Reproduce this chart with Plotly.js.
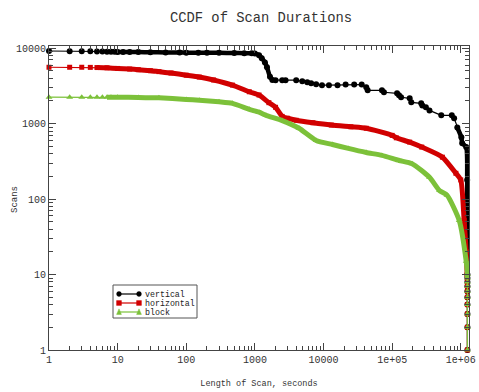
<!DOCTYPE html>
<html>
<head>
<meta charset="utf-8">
<script src="https://cdn.plot.ly/plotly-3.0.1.min.js"></script>
<style>html,body{margin:0;padding:0;background:#fff;}#chart{width:479px;height:392px;}</style>
</head>
<body>
<div id="chart"></div>
<script>
// ---- data ----
const seriesNames = ['vertical', 'horizontal', 'block'];

const verticalX = [1,2,3,4,5,6,7,8,9,10,12,15,20,30,50,80,100,150,200,300,500,700,900,1000,1150,1260,1400,1500,1660,1800,
  2000,2500,2800,4000,4900,5800,6600,7800,9500,12000,16000,21000,28000,36000,42000,44000,71000,76000,
  118000,126000,135000,180000,190000,265000,275000,310000,350000,520000,740000,800000,890000,1020000,1050000,1200000,1240000,
  1250000,1250000,1250000,1250000,1250000,1250000,1250000,1250000,1250000,1250000];
const verticalY = [9200,9150,9100,9100,9050,9050,9000,9000,9000,8950,8950,8900,8900,8850,8800,8800,8750,8750,8700,8700,8650,8600,8600,8500,8100,7400,6500,5600,4200,3800,
  3770,3770,3770,3770,3650,3550,3450,3330,3240,3240,3240,3300,3300,3300,3050,2770,2770,2610,
  2530,2380,2240,2170,1920,1860,1740,1650,1500,1290,1290,1180,890,660,550,490,180,
  10,9,8,7,6,5,4,3,2,1];

const horizontalX = [1,2,3,4,5,7,10,15,20,30,40,60,100,155,250,470,830,1150,1600,2000,2500,3000,4000,7000,13000,25000,42000,
  100000,115000,180000,270000,540000,850000,1000000,1120000,1200000,1240000,
  1250000,1250000,1250000,1250000,1250000,1250000,1250000,1250000,1250000];
const horizontalY = [5600,5600,5600,5580,5550,5500,5400,5300,5200,5050,4900,4700,4400,4150,3800,3250,2650,2400,1900,1650,1250,1180,1110,1030,960,910,870,
  700,650,570,490,360,220,180,52,20,10,
  9,8,7,6,5,4,3,2,1];

const blockX = [1,2,3,4,5,6,7,8,10,20,40,100,155,300,470,830,1150,1450,2500,4400,7800,13500,23000,42000,71000,
  126000,195000,350000,490000,630000,950000,1200000,
  1250000,1250000,1250000,1250000,1250000,1250000,1250000,1250000,1250000,1250000];
const blockY = [2250,2250,2250,2250,2250,2250,2250,2250,2250,2230,2200,2100,2050,1950,1860,1550,1420,1290,1100,870,600,530,470,415,380,
  325,295,195,130,113,52,15,
  10,9,8,7,6,5,4,3,2,1];

const xTickVals = [1,10,100,1000,10000,100000,1000000];
const xTickText = ['1','10','100','1000','10000','1e+05','1e+06'];
const yTickVals = [1,10,100,1000,10000];
const yTickText = ['1','10','100','1000','10000'];

// ---- styling ----
const FONT = 'Liberation Mono, DejaVu Sans Mono, monospace';
const colors = ['#000000', '#d10000', '#7cc13a'];
const symbols = ['circle', 'square', 'triangle-up'];
const markerSizes = [6, 5, 6];
const bandWidths = [4.5, 5, 5];
const bandRanges = [[[9, 1800], [880000, 2e6]], [[5, 2e6]], [[7, 2e6]]];

const xs = [verticalX, horizontalX, blockX];
const ys = [verticalY, horizontalY, blockY];

const traces = [];
for (let s = 0; s < 3; s++) {
  bandRanges[s].forEach(r => {
    const bx = [], by = [];
    xs[s].forEach((x, i) => { if (x >= r[0] && x <= r[1] && ys[s][i] >= 9) { bx.push(x); by.push(ys[s][i]); } });
    traces.push({x: bx, y: by, type: 'scatter', mode: 'lines', showlegend: false, hoverinfo: 'skip',
      cliponaxis: false, line: {color: colors[s], width: bandWidths[s], shape: 'spline', smoothing: 0.6}});
  });
  traces.push({x: xs[s], y: ys[s], name: seriesNames[s], type: 'scatter', mode: 'lines+markers', showlegend: false,
    cliponaxis: false, line: {color: colors[s], width: 1.2},
    marker: {color: colors[s], symbol: symbols[s], size: markerSizes[s]}});
}

// ---- custom compact legend (paper coords) ----
const L = 49, R = 469, T = 46, B = 350;
const px2x = p => (p - L) / (R - L);
const py2y = p => (B - p) / (B - T);
const shapes = [{type: 'rect', xref: 'paper', yref: 'paper', x0: px2x(113), x1: px2x(197), y0: py2y(318), y1: py2y(285),
  line: {color: '#555', width: 1}, fillcolor: 'rgba(255,255,255,0)'}];
const annotations = [];
const rowsPx = [294, 303, 312];
for (let s = 0; s < 3; s++) {
  const yy = py2y(rowsPx[s]);
  shapes.push({type: 'line', xref: 'paper', yref: 'paper', x0: px2x(119), x1: px2x(139), y0: yy, y1: yy,
    line: {color: colors[s], width: 1.2}});
  [119, 139].forEach(cx => {
    const hw = 2.4 / (R - L), hh = 2.4 / (B - T);
    const x0 = px2x(cx) - hw, x1 = px2x(cx) + hw, y0 = yy - hh, y1 = yy + hh;
    if (s === 0) shapes.push({type: 'circle', xref: 'paper', yref: 'paper', x0, x1, y0, y1, fillcolor: colors[s], line: {color: colors[s], width: 0.5}});
    else if (s === 1) shapes.push({type: 'rect', xref: 'paper', yref: 'paper', x0, x1, y0, y1, fillcolor: colors[s], line: {color: colors[s], width: 0.5}});
    else shapes.push({type: 'path', xref: 'paper', yref: 'paper',
      path: `M ${x0} ${y0} L ${x1} ${y0} L ${px2x(cx)} ${y1 + hh * 0.3} Z`, fillcolor: colors[s], line: {color: colors[s], width: 0.5}});
  });
  annotations.push({xref: 'paper', yref: 'paper', x: px2x(143), y: yy, xanchor: 'left', yanchor: 'middle',
    text: seriesNames[s], showarrow: false, font: {family: FONT, size: 8.3, color: '#222'}});
}
// y-axis title placed like the reference (over the tick-label column)
annotations.push({xref: 'paper', yref: 'paper', x: px2x(15), y: py2y(200), xanchor: 'center', yanchor: 'middle',
  text: 'Scans', textangle: -90, showarrow: false, font: {family: FONT, size: 9, color: '#333'}});

const axisCommon = {
  type: 'log', showgrid: false, zeroline: false, showline: true, linecolor: '#444', linewidth: 1,
  mirror: 'ticks', ticks: 'inside', ticklen: 7, tickcolor: '#444', tickwidth: 1,
  tickmode: 'array', tickfont: {family: FONT, size: 10, color: '#333'},
  minor: {ticks: 'inside', ticklen: 4, tickcolor: '#444', tickwidth: 1, dtick: 'D1', showgrid: false}
};

const layout = {
  width: 479, height: 392,
  margin: {l: L, r: 479 - R, t: T, b: 392 - B, pad: 0},
  paper_bgcolor: '#fff', plot_bgcolor: '#fff',
  showlegend: false,
  title: {text: 'CCDF of Scan Durations', x: 0.545, xanchor: 'center', y: 0.957, yanchor: 'middle',
    font: {family: FONT, size: 13.8, color: '#333'}},
  xaxis: Object.assign({}, axisCommon, {range: [0, 6.12], tickvals: xTickVals, ticktext: xTickText,
    title: {text: 'Length of Scan, seconds', standoff: 15, font: {family: FONT, size: 8.5, color: '#333'}}}),
  yaxis: Object.assign({}, axisCommon, {range: [0, 4.03], tickvals: yTickVals, ticktext: yTickText}),
  shapes: shapes,
  annotations: annotations
};

Plotly.newPlot('chart', traces, layout, {displayModeBar: false, staticPlot: true});
</script>
</body>
</html>
